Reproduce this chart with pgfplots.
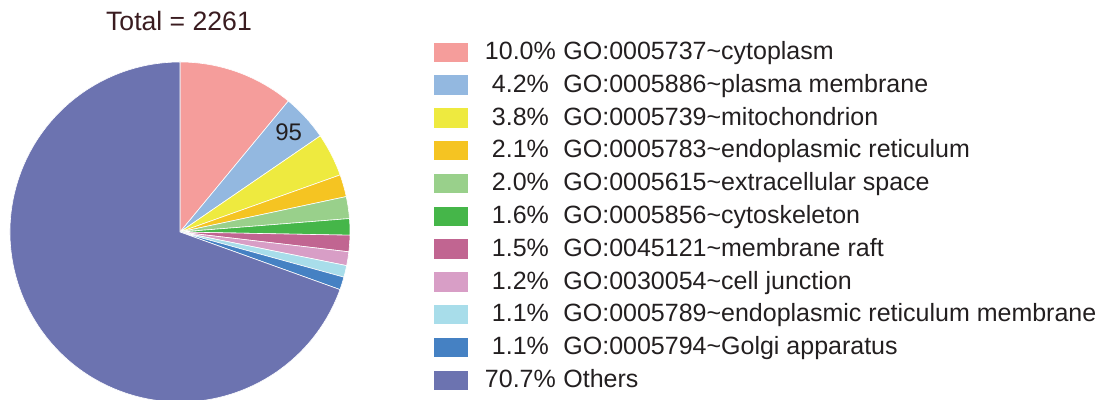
\documentclass[border=0pt]{standalone}
\usepackage{fontspec}
\setmainfont{Liberation Sans}
\usepackage{pgfplots}
\usepackage{pgfplotstable}
\usetikzlibrary{calc}
\pgfplotsset{compat=1.18}

\definecolor{txt}{HTML}{231F20}
\definecolor{ttl}{HTML}{3A1C20}
\definecolor{c0}{HTML}{F59D9B}
\definecolor{c1}{HTML}{93B8E0}
\definecolor{c2}{HTML}{EEEA3F}
\definecolor{c3}{HTML}{F5C422}
\definecolor{c4}{HTML}{99D08B}
\definecolor{c5}{HTML}{45B649}
\definecolor{c6}{HTML}{C16591}
\definecolor{c7}{HTML}{D89EC6}
\definecolor{c8}{HTML}{A8DDEA}
\definecolor{c9}{HTML}{4581C3}
\definecolor{c10}{HTML}{6C73B0}

% size of each slice, in % of the circle
\pgfplotstableread{
slice
11.00
4.44
4.11
2.11
2.08
1.56
1.56
1.31
1.11
1.22
69.50
}\pietable

\begin{document}
\begin{tikzpicture}
\useasboundingbox (0,0) rectangle (553pt,200pt);

% start/end angle of every slice, clockwise from 12 o'clock
\xdef\cumang{90}
\foreach \i in {0,...,10}{
  \pgfplotstablegetelem{\i}{slice}\of\pietable
  \pgfmathsetmacro\endang{\cumang-3.6*\pgfplotsretval}
  \expandafter\xdef\csname sA\i\endcsname{\cumang}
  \expandafter\xdef\csname sB\i\endcsname{\endang}
  \xdef\cumang{\endang}
}

\begin{axis}[
  at={(90pt,84pt)}, anchor=center,
  x=85pt, y=85pt,
  xmin=-1, xmax=1, ymin=-1, ymax=1,
  hide axis, clip=false,
  title={Total = 2261},
  title style={at={(0.5,1)}, anchor=base, yshift=9.5pt, xshift=-0.5pt,
    font=\fontsize{13.3}{16}\selectfont, text=ttl},
  legend style={at={(1.2471,1.0644)}, anchor=north west,
    draw=none, fill=none, inner sep=0pt,
    row sep=4.5pt, column sep=0pt, cells={anchor=west},
    nodes={inner sep=0pt, text height=9.5pt, text depth=2.4pt,
      font=\fontsize{12.5}{15}\selectfont, text=txt}},
  legend image code/.code={\fill[#1, draw=none] (0pt,-4.85pt) rectangle (17pt,4.85pt);},
]

\pgfplotsinvokeforeach{0,...,10}{
  \filldraw[fill=c#1, draw=white, line width=0.3pt]
    (axis cs:0,0) -- ++(\csname sA#1\endcsname:85pt)
    arc[start angle=\csname sA#1\endcsname, end angle=\csname sB#1\endcsname, radius=85pt]
    -- cycle;
}

\node[text=txt, font=\fontsize{12}{14}\selectfont]
  at ($(axis cs:0,0)+({(\csname sA1\endcsname+\csname sB1\endcsname)/2}:73.6pt)$) {95};

\addlegendimage{fill=c0}
\addlegendentry{\hspace{10pt}\makebox[32pt][c]{10.0\%}\hspace{5.5pt}GO:0005737\textasciitilde cytoplasm}
\addlegendimage{fill=c1}
\addlegendentry{\hspace{10pt}\makebox[32pt][c]{4.2\%}\hspace{5.5pt}GO:0005886\textasciitilde plasma membrane}
\addlegendimage{fill=c2}
\addlegendentry{\hspace{10pt}\makebox[32pt][c]{3.8\%}\hspace{5.5pt}GO:0005739\textasciitilde mitochondrion}
\addlegendimage{fill=c3}
\addlegendentry{\hspace{10pt}\makebox[32pt][c]{2.1\%}\hspace{5.5pt}GO:0005783\textasciitilde endoplasmic reticulum}
\addlegendimage{fill=c4}
\addlegendentry{\hspace{10pt}\makebox[32pt][c]{2.0\%}\hspace{5.5pt}GO:0005615\textasciitilde extracellular space}
\addlegendimage{fill=c5}
\addlegendentry{\hspace{10pt}\makebox[32pt][c]{1.6\%}\hspace{5.5pt}GO:0005856\textasciitilde cytoskeleton}
\addlegendimage{fill=c6}
\addlegendentry{\hspace{10pt}\makebox[32pt][c]{1.5\%}\hspace{5.5pt}GO:0045121\textasciitilde membrane raft}
\addlegendimage{fill=c7}
\addlegendentry{\hspace{10pt}\makebox[32pt][c]{1.2\%}\hspace{5.5pt}GO:0030054\textasciitilde cell junction}
\addlegendimage{fill=c8}
\addlegendentry{\hspace{10pt}\makebox[32pt][c]{1.1\%}\hspace{5.5pt}GO:0005789\textasciitilde endoplasmic reticulum membrane}
\addlegendimage{fill=c9}
\addlegendentry{\hspace{10pt}\makebox[32pt][c]{1.1\%}\hspace{5.5pt}GO:0005794\textasciitilde Golgi apparatus}
\addlegendimage{fill=c10}
\addlegendentry{\hspace{10pt}\makebox[32pt][c]{70.7\%}\hspace{5.5pt}Others}
\end{axis}
\end{tikzpicture}
\end{document}
